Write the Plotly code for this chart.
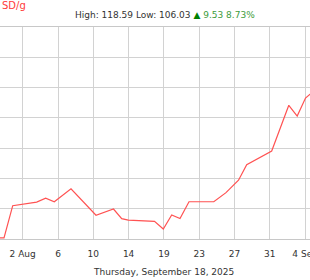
import plotly.graph_objects as go

# Data
dates = [
    "2025-07-29 08:25", "2025-07-30 23:30", "2025-07-31 23:45", "2025-08-03 18:35",
    "2025-08-04 19:40", "2025-08-05 19:40", "2025-08-07 18:15", "2025-08-10 15:55",
    "2025-08-12 16:40", "2025-08-13 15:35", "2025-08-14 10:00", "2025-08-17 11:00",
    "2025-08-18 11:30", "2025-08-19 10:55", "2025-08-20 10:05", "2025-08-21 11:10",
    "2025-08-24 08:15", "2025-08-25 18:15", "2025-08-27 05:10", "2025-08-28 04:00",
    "2025-08-31 01:40", "2025-09-02 01:20", "2025-09-03 00:45", "2025-09-03 23:55",
    "2025-09-04 21:55",
]
prices = [
    106.07, 106.07, 108.20, 108.44,
    108.69, 108.46, 109.32, 107.57,
    107.98, 107.34, 107.25, 107.17,
    106.66, 107.59, 107.35, 108.46,
    108.46, 109.06, 109.88, 110.90,
    111.81, 114.83, 114.12, 115.31,
    115.75,
]
tick_vals = [
    "2025-08-02 03:36", "2025-08-06 06:00", "2025-08-10 08:24", "2025-08-14 10:48",
    "2025-08-18 13:12", "2025-08-22 15:36", "2025-08-26 18:00", "2025-08-30 20:24",
    "2025-09-03 22:48",
]
tick_text = ["2 Aug", "6", "10", "14", "19", "23", "27", "31", "4 Sep"]

unit_label = "SD/g"
header = ("High: 118.59 Low: 106.03 <span style='color:#008000'>▲</span> "
          "<span style='color:#3c9c3c'>9.53 8.73%</span>")
date_title = "Thursday, September 18, 2025"

FONT = "DejaVu Sans, Verdana, sans-serif"

fig = go.Figure()
fig.add_trace(go.Scatter(
    x=dates, y=prices, mode="lines",
    line=dict(color="#ff5252", width=1.2),
    hoverinfo="skip", showlegend=False,
))

fig.update_layout(
    width=310, height=280,
    margin=dict(l=0, r=0, t=27, b=41, pad=0, autoexpand=False),
    paper_bgcolor="white", plot_bgcolor="white",
    font=dict(family=FONT, size=9, color="#333333"),
    xaxis=dict(
        range=["2025-07-30 12:20", "2025-09-04 12:26"],
        tickmode="array", tickvals=tick_vals, ticktext=tick_text,
        showgrid=True, gridcolor="#d2d2d2", gridwidth=1,
        showline=True, linecolor="#c8c8c8", linewidth=1, mirror=True,
        ticks="", ticklabelstandoff=6, ticklabeloverflow="allow",
        tickfont=dict(family=FONT, size=9, color="#333333"),
        zeroline=False, fixedrange=True, automargin=False,
    ),
    yaxis=dict(
        range=[106, 120], dtick=2, tick0=106,
        showgrid=True, gridcolor="#d2d2d2", gridwidth=1,
        showticklabels=False, ticks="", zeroline=False, showline=False,
        fixedrange=True, automargin=False,
    ),
    annotations=[
        dict(text=unit_label, x=0, y=1 + 21 / 212, xref="paper", yref="paper",
             xanchor="left", yanchor="middle", showarrow=False,
             font=dict(family=FONT, size=10, color="#ff3b3b")),
        dict(text=header, x=165.5 / 310, y=1 + 12 / 212, xref="paper", yref="paper",
             xanchor="center", yanchor="middle", showarrow=False,
             font=dict(family=FONT, size=9, color="#333333")),
        dict(text=date_title, x=163 / 310, y=-33 / 212, xref="paper", yref="paper",
             xanchor="center", yanchor="middle", showarrow=False,
             font=dict(family=FONT, size=9, color="#333333")),
    ],
)

fig.write_html("out.html", config={"displayModeBar": False})
